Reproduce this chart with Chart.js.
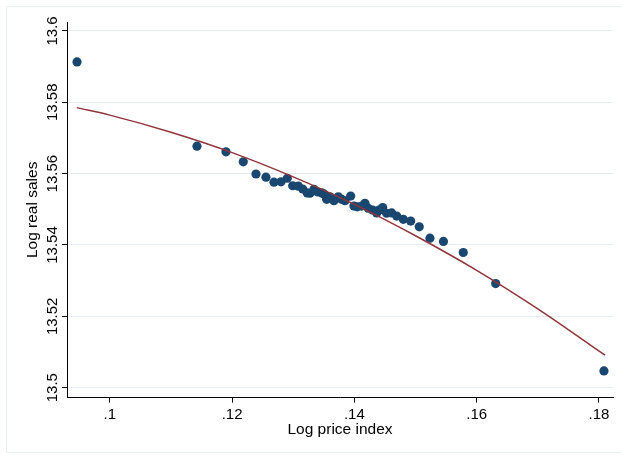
<!DOCTYPE html>
<html>
<head>
<meta charset="utf-8">
<script src="https://cdn.jsdelivr.net/npm/chart.js@4/dist/chart.umd.min.js"></script>
<style>
  html, body { margin: 0; padding: 0; background: #fff; }
  #wrap { position: relative; width: 621px; height: 455px; }
</style>
</head>
<body>
<div id="wrap"><canvas id="c" width="621" height="455"></canvas></div>
<script>
// Observations: log price index vs log real sales
const priceIndex = [
  0.09464, 0.11426, 0.11900, 0.12183, 0.12391, 0.12554, 0.12685, 0.12800, 0.12903, 0.12991,
  0.13083, 0.13155, 0.13230, 0.13274, 0.13339, 0.13393, 0.13465, 0.13503, 0.13547, 0.13601,
  0.13666, 0.13737, 0.13792, 0.13846, 0.13939, 0.13993, 0.14047, 0.14119, 0.14173, 0.14227,
  0.14299, 0.14365, 0.14402, 0.14463, 0.14528, 0.14610, 0.14692, 0.14800, 0.14921, 0.15061,
  0.15236, 0.15457, 0.15781, 0.16311, 0.18082
];
const realSales = [
  13.5913, 13.5677, 13.5661, 13.5633, 13.5599, 13.5590, 13.5576, 13.5577, 13.5587, 13.5566,
  13.5565, 13.5557, 13.5546, 13.5545, 13.5556, 13.5549, 13.5546, 13.5543, 13.5528, 13.5535,
  13.5524, 13.5535, 13.5528, 13.5524, 13.5537, 13.5509, 13.5507, 13.5509, 13.5517, 13.5503,
  13.5498, 13.5490, 13.5498, 13.5505, 13.5489, 13.5490, 13.5481, 13.5472, 13.5467, 13.5451,
  13.5419, 13.5410, 13.5379, 13.5292, 13.5047
];

// Fitted quadratic curve
const fitPrice = [0.0946, 0.100, 0.110, 0.120, 0.130, 0.140, 0.150, 0.160, 0.170, 0.181];
const fitSales = [13.5785, 13.5764, 13.5716, 13.5659, 13.5591, 13.5514, 13.5426, 13.5329, 13.5221, 13.5091];

// Axis ticks
const xTickValues = [0.10, 0.12, 0.14, 0.16, 0.18];
const xTickLabels = ['.1', '.12', '.14', '.16', '.18'];
const yTickValues = [13.50, 13.52, 13.54, 13.56, 13.58, 13.60];
const yTickLabels = ['13.5', '13.52', '13.54', '13.56', '13.58', '13.6'];

const FONT = "'Liberation Sans', Arial, Helvetica, sans-serif";

function labelFor(values, labels, v) {
  let best = 0;
  for (let i = 1; i < values.length; i++) {
    if (Math.abs(values[i] - v) < Math.abs(values[best] - v)) best = i;
  }
  return labels[best];
}

const frame = {
  id: 'frame',
  beforeDraw(chart) {
    const ctx = chart.ctx;
    ctx.save();
    ctx.fillStyle = '#ffffff';
    ctx.fillRect(0, 0, chart.width, chart.height);
    ctx.strokeStyle = '#eaeff2';
    ctx.lineWidth = 1;
    ctx.strokeRect(6.5, 6.5, 620, 446);
    ctx.restore();
  }
};

new Chart(document.getElementById('c'), {
  type: 'scatter',
  data: {
    datasets: [
      {
        type: 'line',
        data: fitPrice.map((x, i) => ({ x, y: fitSales[i] })),
        borderColor: '#90353b',
        borderWidth: 1.5,
        pointRadius: 0,
        fill: false,
        cubicInterpolationMode: 'monotone',
        order: 0
      },
      {
        data: priceIndex.map((x, i) => ({ x, y: realSales[i] })),
        backgroundColor: '#1a476f',
        borderColor: '#1a476f',
        borderWidth: 0,
        pointRadius: 4.6,
        order: 1
      }
    ]
  },
  options: {
    responsive: false,
    animation: false,
    devicePixelRatio: 1,
    layout: { padding: { left: 0, top: 22, right: 8, bottom: 0 } },
    plugins: { legend: { display: false }, tooltip: { enabled: false } },
    scales: {
      x: {
        type: 'linear',
        min: 0.0930,
        max: 0.1823,
        afterBuildTicks(scale) { scale.ticks = xTickValues.map(v => ({ value: v })); },
        afterFit(scale) { scale.height = 57.3; },
        border: { display: true, color: '#000', width: 1 },
        grid: { drawOnChartArea: false, drawTicks: true, tickLength: 5, tickColor: '#000' },
        ticks: {
          autoSkip: false,
          maxRotation: 0,
          padding: 3,
          color: '#000',
          font: { family: FONT, size: 15 },
          callback: (v) => labelFor(xTickValues, xTickLabels, v)
        },
        title: {
          display: true,
          text: 'Log price index',
          color: '#000',
          font: { family: FONT, size: 15.5 },
          padding: { top: 0, bottom: 16 }
        }
      },
      y: {
        type: 'linear',
        min: 13.4972,
        max: 13.6025,
        afterBuildTicks(scale) { scale.ticks = yTickValues.map(v => ({ value: v })); },
        afterFit(scale) { scale.width = 67; },
        border: { display: true, color: '#000', width: 1 },
        grid: { color: '#e6edf0', lineWidth: 1, drawTicks: true, tickLength: 5, tickColor: '#000' },
        ticks: {
          autoSkip: false,
          minRotation: 90,
          maxRotation: 90,
          crossAlign: 'center',
          padding: -10,
          color: '#000',
          font: { family: FONT, size: 15 },
          callback: (v) => labelFor(yTickValues, yTickLabels, v)
        },
        title: {
          display: true,
          text: 'Log real sales',
          color: '#000',
          font: { family: FONT, size: 15.5 },
          padding: { top: 23, bottom: 0 }
        }
      }
    }
  },
  plugins: [frame]
});
</script>
</body>
</html>
